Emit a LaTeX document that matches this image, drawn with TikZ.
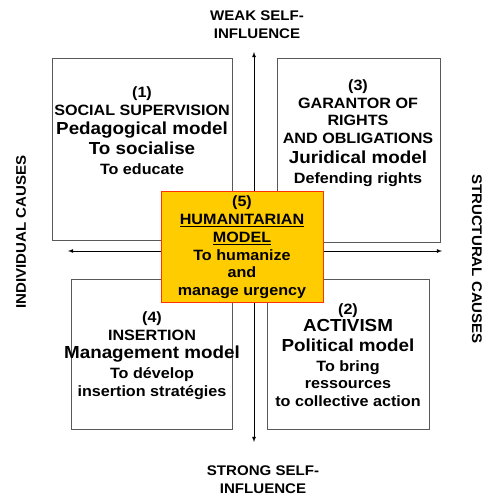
\documentclass[tikz,border=0pt]{standalone}
\usepackage{fontspec}
\setmainfont{Liberation Sans}[FakeStretch=1.08]
\usepackage{xcolor}
\usepackage{tikz}
\usetikzlibrary{shapes,arrows,positioning}
\definecolor{urgency}{HTML}{FFCC00}
\definecolor{urgencyline}{HTML}{FF3300}
\def\smallsz{\fontsize{15}{17.8}\selectfont}
\def\bigsz{\fontsize{17.5}{20}\selectfont}
\def\axissz{\fontsize{14}{18}\selectfont}

\begin{document}
\begin{tikzpicture}[x=1bp,y=-1bp,>=latex,font=\bfseries\smallsz]
    \tikzstyle{quadrant}=[draw=black!65,line width=0.8bp,inner sep=0pt]
    \tikzstyle{centre}=[quadrant,draw=urgencyline,fill=urgency]
    \tikzstyle{model}=[align=center,inner sep=0pt]
    \tikzstyle{axis}=[<->,line width=0.8bp,shorten >=0pt]
    \tikzstyle{annot}=[align=center,font=\bfseries\axissz,inner sep=0pt]

    \useasboundingbox (0,0) rectangle (483,498);

    % Draw the four quadrant boxes
    \foreach \name / \x / \y / \w / \h in {1/142/149/180/182, 3/358.5/150/163/184,
                                          4/151.5/354/161/150, 2/348/354/162/150}
        \node[quadrant, minimum width=\w bp, minimum height=\h bp] (Q-\name) at (\x,\y) {};

    % Draw the axes
    \coordinate (top) at (254,52);
    \coordinate (bottom) at (254,442);
    \coordinate (left) at (68,251);
    \coordinate (right) at (442,251);
    \draw[axis] (bottom) -- (top);
    \draw[axis] (left) -- (right);

    % Draw the centre box
    \node[centre, minimum width=162bp, minimum height=111bp] (Q-5) at (242,246.5) {};

    % Texts of the models
    \node[model] (M-1) at (142,130.5) {(1)\\SOCIAL SUPERVISION\\[2bp]{\bigsz Pedagogical model}\\[2bp]{\bigsz To socialise}\\[2bp]To educate};
    \node[model] (M-3) at (358,133) {(3)\\GARANTOR OF\\RIGHTS\\AND OBLIGATIONS\\[2bp]{\bigsz Juridical model}\\[2bp]Defending rights};
    \node[model] (M-5) at (242,247.5) {(5)\\\underline{HUMANITARIAN}\\\underline{MODEL}\\To humanize\\and\\manage urgency};
    \node[model] (M-4) at (152,355.5) {(4)\\INSERTION\\[1bp]{\bigsz Management model}\\[2bp]To dévelop\\insertion stratégies};
    \node[model] (M-2) at (348,355) {(2)\\{\bigsz ACTIVISM}\\[2bp]{\bigsz Political model}\\[2bp]To bring\\ressources\\to collective action};

    % Annotate the axes
    \node[annot] (weak) at (257,25) {WEAK SELF-\\INFLUENCE};
    \node[annot] (strong) at (263,480) {STRONG SELF-\\INFLUENCE};
    \node[annot, rotate=90] (individual) at (21,232) {INDIVIDUAL CAUSES};
    \node[annot, rotate=-90] (structural) at (477,259) {STRUCTURAL CAUSES};

\end{tikzpicture}
\end{document}
